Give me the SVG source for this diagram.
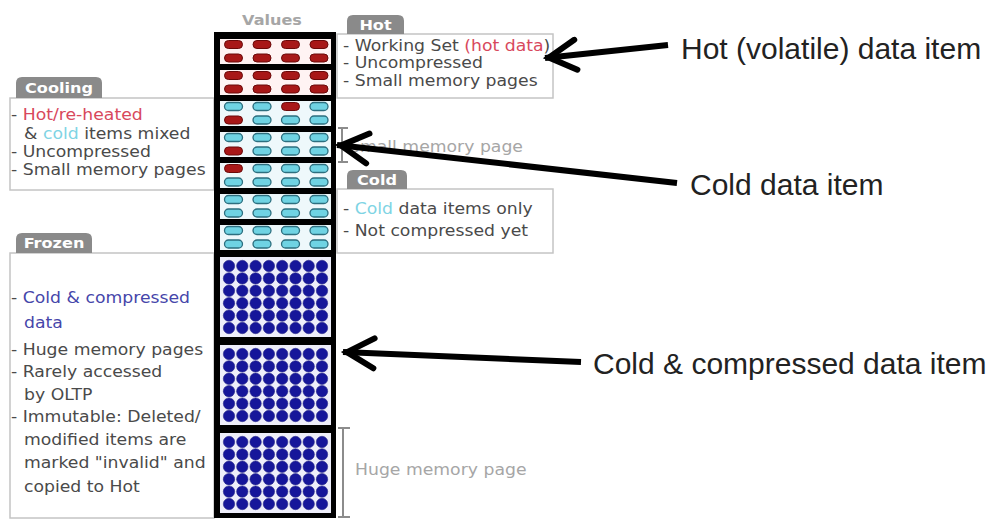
<svg xmlns="http://www.w3.org/2000/svg" width="995" height="520" viewBox="0 0 995 520">
<style>
.t{font-family:"DejaVu Sans",Verdana,sans-serif;font-size:15px;fill:#4a4a4a}
.tab{font-family:"DejaVu Sans",Verdana,sans-serif;font-size:14px;font-weight:bold;fill:#fff}
.lbl{font-family:"DejaVu Sans",Verdana,sans-serif;font-size:15px;fill:#a6a6a6}
.big{font-family:"Liberation Sans",Arial,sans-serif;font-size:30px;fill:#222}
.red{fill:#d8485c}
.cy{fill:#7fd4e4}
.bl{fill:#4646aa}
.box{fill:#fff;stroke:#c4c4c4;stroke-width:1.5}
.tabbg{fill:#8a8a8a}
.brk{stroke:#8c8c8c;stroke-width:2;fill:none}
.arr{stroke:#000;stroke-width:6;fill:none;marker-end:url(#ah)}
.hp{fill:#fff3f3}
.cp{fill:#eef8fb}
.fp{fill:#eeeefa}
</style>
<defs>
<marker id="ah" markerUnits="userSpaceOnUse" markerWidth="44" markerHeight="44" viewBox="-38 -22 44 44" refX="0" refY="0" orient="auto" overflow="visible">
<path d="M-31,-15 L-4,0 L-31,15" fill="none" stroke="#000" stroke-width="6" stroke-linecap="round" stroke-linejoin="miter"/>
</marker>
<rect id="h" x="-9" y="-4" width="18" height="8" rx="4" fill="#a81818" stroke="#6a0a0a" stroke-width="1"/>
<rect id="c" x="-9" y="-4" width="18" height="8" rx="4" fill="#6fd3e3" stroke="#2d6f7f" stroke-width="1.3"/>
<circle id="fc" r="5.7" fill="#16169a" stroke="#2a2a8a" stroke-width="0.6"/>
<g id="fr">
<use href="#fc" x="229"/><use href="#fc" x="242.3"/><use href="#fc" x="255.6"/><use href="#fc" x="268.9"/><use href="#fc" x="282.2"/><use href="#fc" x="295.5"/><use href="#fc" x="308.7"/><use href="#fc" x="322"/>
</g>
<g id="fpg">
<use href="#fr" y="0"/><use href="#fr" y="12.4"/><use href="#fr" y="24.8"/><use href="#fr" y="37.2"/><use href="#fr" y="49.6"/><use href="#fr" y="62"/>
</g>
</defs>
<rect width="995" height="520" fill="#fff"/>

<g id="hot">
<rect class="box" x="337" y="34" width="216" height="64"/>
<path class="tabbg" d="M347,34 V21 Q347,15 353,15 H398 Q404,15 404,21 V34 Z"/>
<text class="tab" text-anchor="middle" transform="translate(375.5 30) scale(1.15 1)">Hot</text>
<text class="t" transform="translate(343 51) scale(1.15 1)">- Working Set <tspan class="red">(hot data</tspan>)</text>
<text class="t" transform="translate(343 68) scale(1.15 1)">- Uncompressed</text>
<text class="t" transform="translate(343 86) scale(1.15 1)">- Small memory pages</text>
</g>

<g id="cooling">
<rect class="box" x="10" y="98" width="204" height="92"/>
<path class="tabbg" d="M16,98 V83 Q16,77 22,77 H96 Q102,77 102,83 V98 Z"/>
<text class="tab" text-anchor="middle" transform="translate(59 93) scale(1.15 1)">Cooling</text>
<text class="t" transform="translate(11 120) scale(1.15 1)">- <tspan class="red">Hot/re-heated</tspan></text>
<text class="t" transform="translate(24 139) scale(1.15 1)">&amp; <tspan class="cy">cold</tspan> items mixed</text>
<text class="t" transform="translate(11 157) scale(1.15 1)">- Uncompressed</text>
<text class="t" transform="translate(11 175) scale(1.15 1)">- Small memory pages</text>
</g>

<g id="cold">
<rect class="box" x="337" y="189" width="216" height="64"/>
<path class="tabbg" d="M347,189 V176 Q347,170 353,170 H401 Q407,170 407,176 V189 Z"/>
<text class="tab" text-anchor="middle" transform="translate(377 185) scale(1.15 1)">Cold</text>
<text class="t" transform="translate(343 214) scale(1.15 1)">- <tspan class="cy">Cold</tspan> data items only</text>
<text class="t" transform="translate(343 236) scale(1.15 1)">- Not compressed yet</text>
</g>

<g id="frozen">
<rect class="box" x="10" y="253" width="204" height="265"/>
<path class="tabbg" d="M16,253 V239 Q16,233 22,233 H86 Q92,233 92,239 V253 Z"/>
<text class="tab" text-anchor="middle" transform="translate(54 248) scale(1.15 1)">Frozen</text>
<text class="t" transform="translate(11 303) scale(1.15 1)">- <tspan class="bl">Cold &amp; compressed</tspan></text>
<text class="t bl" transform="translate(24 328) scale(1.15 1)">data</text>
<text class="t" transform="translate(11 355) scale(1.15 1)">- Huge memory pages</text>
<text class="t" transform="translate(11 377) scale(1.15 1)">- Rarely accessed</text>
<text class="t" transform="translate(24 400) scale(1.15 1)">by OLTP</text>
<text class="t" transform="translate(11 422) scale(1.15 1)">- Immutable: Deleted/</text>
<text class="t" transform="translate(24 445) scale(1.15 1)">modified items are</text>
<text class="t" transform="translate(24 468) scale(1.15 1)">marked "invalid" and</text>
<text class="t" transform="translate(24 492) scale(1.15 1)">copied to Hot</text>
</g>

<g id="values">
<text class="lbl" font-weight="bold" text-anchor="middle" transform="translate(272 25) scale(1.15 1)" style="font-size:14px">Values</text>
<rect x="214" y="32" width="122" height="486" fill="#000"/>
<rect class="hp" x="220" y="39" width="111" height="25"/>
<rect class="hp" x="220" y="70" width="111" height="25"/>
<rect class="cp" x="220" y="101" width="111" height="25"/>
<rect class="cp" x="220" y="132" width="111" height="25"/>
<rect class="cp" x="220" y="163" width="111" height="25"/>
<rect class="cp" x="220" y="194" width="111" height="25"/>
<rect class="cp" x="220" y="225" width="111" height="25"/>
<rect class="fp" x="220" y="257" width="111" height="80"/>
<rect class="fp" x="220" y="345" width="111" height="80"/>
<rect class="fp" x="220" y="433" width="111" height="80"/>
<use href="#h" x="233.5" y="44.5"/><use href="#h" x="262" y="44.5"/><use href="#h" x="290.5" y="44.5"/><use href="#h" x="319" y="44.5"/>
<use href="#h" x="233.5" y="58"/><use href="#h" x="262" y="58"/><use href="#h" x="290.5" y="58"/><use href="#h" x="319" y="58"/>
<use href="#h" x="233.5" y="75.5"/><use href="#h" x="262" y="75.5"/><use href="#h" x="290.5" y="75.5"/><use href="#h" x="319" y="75.5"/>
<use href="#h" x="233.5" y="89"/><use href="#h" x="262" y="89"/><use href="#h" x="290.5" y="89"/><use href="#h" x="319" y="89"/>
<use href="#c" x="233.5" y="106.5"/><use href="#c" x="262" y="106.5"/><use href="#h" x="290.5" y="106.5"/><use href="#c" x="319" y="106.5"/>
<use href="#h" x="233.5" y="120"/><use href="#c" x="262" y="120"/><use href="#c" x="290.5" y="120"/><use href="#c" x="319" y="120"/>
<use href="#c" x="233.5" y="137.5"/><use href="#c" x="262" y="137.5"/><use href="#c" x="290.5" y="137.5"/><use href="#c" x="319" y="137.5"/>
<use href="#h" x="233.5" y="151"/><use href="#c" x="262" y="151"/><use href="#c" x="290.5" y="151"/><use href="#c" x="319" y="151"/>
<use href="#h" x="233.5" y="168.5"/><use href="#c" x="262" y="168.5"/><use href="#c" x="290.5" y="168.5"/><use href="#c" x="319" y="168.5"/>
<use href="#c" x="233.5" y="182"/><use href="#c" x="262" y="182"/><use href="#c" x="290.5" y="182"/><use href="#c" x="319" y="182"/>
<use href="#c" x="233.5" y="199.5"/><use href="#c" x="262" y="199.5"/><use href="#c" x="290.5" y="199.5"/><use href="#c" x="319" y="199.5"/>
<use href="#c" x="233.5" y="213"/><use href="#c" x="262" y="213"/><use href="#c" x="290.5" y="213"/><use href="#c" x="319" y="213"/>
<use href="#c" x="233.5" y="230.5"/><use href="#c" x="262" y="230.5"/><use href="#c" x="290.5" y="230.5"/><use href="#c" x="319" y="230.5"/>
<use href="#c" x="233.5" y="244"/><use href="#c" x="262" y="244"/><use href="#c" x="290.5" y="244"/><use href="#c" x="319" y="244"/>
<use href="#fpg" y="266"/>
<use href="#fpg" y="354"/>
<use href="#fpg" y="442"/>
</g>

<g id="small-page-label">
<path class="brk" d="M338,128 H348 M342,128 V162 M338,162 H348"/>
<text class="lbl" transform="translate(349 152) scale(1.15 1)">Small memory page</text>
</g>

<g id="huge-page-label">
<path class="brk" d="M338,428 H350 M343,428 V517 M338,517 H350"/>
<text class="lbl" transform="translate(355 475) scale(1.15 1)">Huge memory page</text>
</g>

<g id="callouts">
<text class="big" x="681" y="59">Hot (volatile) data item</text>
<text class="big" x="690" y="195">Cold data item</text>
<text class="big" x="593" y="374">Cold &amp; compressed data item</text>
</g>

<g id="connectors">
<line class="arr" x1="668" y1="45" x2="545" y2="58"/>
<line class="arr" x1="677" y1="183" x2="337" y2="145"/>
<line class="arr" x1="581" y1="362" x2="343" y2="352"/>
</g>
</svg>
